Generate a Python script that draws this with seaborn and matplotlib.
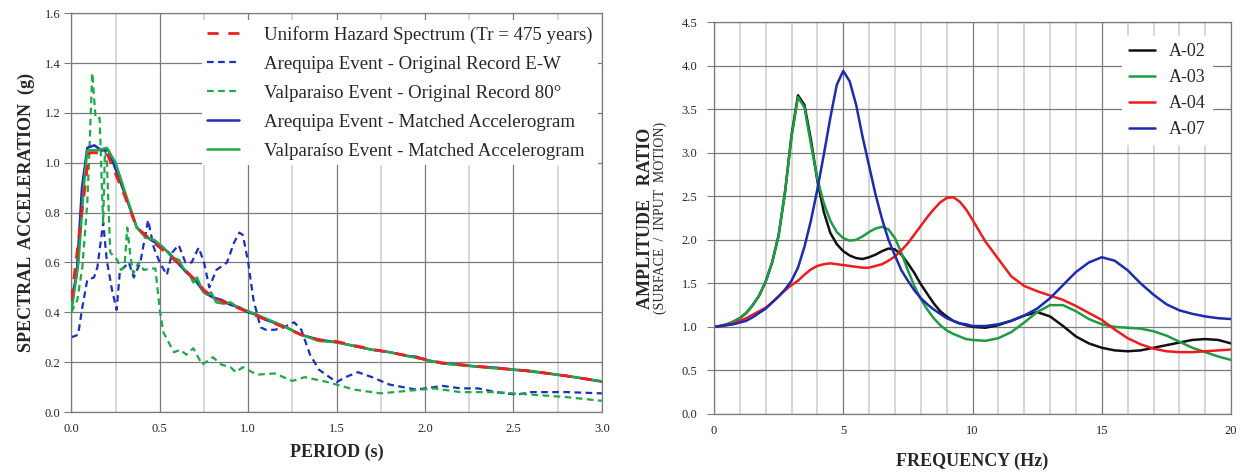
import matplotlib
matplotlib.use("Agg")
import matplotlib.pyplot as plt
from matplotlib.ticker import MultipleLocator, FormatStrFormatter
import seaborn as sns

# ---- left panel: response spectra ----
uhs_T = [0.0, 0.1, 0.2, 0.3, 0.37, 0.45, 0.5, 0.6, 0.7, 0.75, 0.8, 0.9, 1.0, 1.1, 1.2,
         1.3, 1.4, 1.5, 1.6, 1.7, 1.8, 1.9, 2.0, 2.1, 2.2, 2.4, 2.6, 2.8, 3.0]
uhs_Sa = [0.45, 1.04, 1.04, 0.87, 0.74, 0.69, 0.66, 0.60, 0.53, 0.49, 0.46, 0.43, 0.40, 0.37, 0.34,
          0.31, 0.29, 0.283, 0.267, 0.252, 0.24, 0.226, 0.212, 0.197, 0.19, 0.177, 0.164, 0.145, 0.123]

areq_orig_T = [0.0, 0.038, 0.062, 0.09, 0.128, 0.147, 0.18, 0.2, 0.23, 0.256, 0.275, 0.297, 0.325,
               0.353, 0.39, 0.434, 0.466, 0.5, 0.54, 0.57, 0.607, 0.645, 0.68, 0.72, 0.75, 0.78,
               0.82, 0.88, 0.92, 0.95, 0.97, 1.0, 1.03, 1.07, 1.1, 1.15, 1.2, 1.26, 1.3, 1.35,
               1.4, 1.5, 1.55, 1.62, 1.7, 1.8, 1.95, 2.1, 2.2, 2.3, 2.4, 2.52, 2.6, 2.8, 3.0]
areq_orig_Sa = [0.30, 0.31, 0.42, 0.53, 0.54, 0.58, 0.76, 0.61, 0.49, 0.41, 0.57, 0.58, 0.60,
                0.54, 0.60, 0.77, 0.66, 0.60, 0.55, 0.64, 0.67, 0.60, 0.60, 0.66, 0.60, 0.50,
                0.57, 0.60, 0.68, 0.72, 0.71, 0.60, 0.45, 0.34, 0.33, 0.33, 0.34, 0.36, 0.33, 0.23,
                0.17, 0.12, 0.14, 0.16, 0.14, 0.11, 0.09, 0.105, 0.095, 0.095, 0.08, 0.07, 0.08, 0.08, 0.075]

valp_orig_T = [0.0, 0.034, 0.062, 0.09, 0.1, 0.118, 0.137, 0.16, 0.175, 0.18, 0.19, 0.2, 0.22,
               0.26, 0.28, 0.3, 0.316, 0.335, 0.35, 0.38, 0.41, 0.447, 0.475, 0.5, 0.52, 0.58,
               0.617, 0.65, 0.69, 0.74, 0.8, 0.85, 0.9, 0.93, 0.97, 1.05, 1.15, 1.25, 1.32,
               1.45, 1.6, 1.75, 1.9, 2.05, 2.2, 2.4, 2.6, 2.8, 3.0]
valp_orig_Sa = [0.40, 0.45, 0.58, 0.84, 1.01, 1.36, 1.18, 1.18, 0.85, 0.76, 1.05, 1.02, 0.64,
                0.61, 0.57, 0.58, 0.74, 0.62, 0.556, 0.60, 0.57, 0.576, 0.576, 0.41, 0.32, 0.24,
                0.25, 0.23, 0.256, 0.19, 0.22, 0.19, 0.18, 0.16, 0.18, 0.15, 0.155, 0.125, 0.14,
                0.12, 0.09, 0.075, 0.085, 0.095, 0.08, 0.08, 0.07, 0.06, 0.045]

areq_match_T = [0.0, 0.03, 0.06, 0.09, 0.13, 0.17, 0.21, 0.3, 0.37, 0.45, 0.5, 0.55, 0.6, 0.65,
                0.7, 0.75, 0.8, 0.85, 0.9, 0.95, 1.0, 1.05, 1.1, 1.2, 1.3, 1.4, 1.5, 1.6, 1.7,
                1.8, 1.9, 1.95, 2.0, 2.1, 2.2, 2.3, 2.4, 2.5, 2.6, 2.8, 3.0]
areq_match_Sa = [0.45, 0.55, 0.90, 1.06, 1.07, 1.05, 1.05, 0.88, 0.74, 0.69, 0.67, 0.64, 0.60, 0.56,
                 0.53, 0.48, 0.46, 0.45, 0.43, 0.42, 0.40, 0.39, 0.37, 0.345, 0.31, 0.29, 0.28,
                 0.265, 0.25, 0.24, 0.225, 0.222, 0.21, 0.195, 0.19, 0.182, 0.178, 0.17, 0.163,
                 0.145, 0.122]

valp_match_T = [0.0, 0.04, 0.07, 0.09, 0.15, 0.2, 0.25, 0.3, 0.37, 0.42, 0.47, 0.52, 0.57, 0.61,
                0.63, 0.67, 0.69, 0.71, 0.74, 0.77, 0.79, 0.82, 0.86, 0.9, 0.94, 1.0, 1.05, 1.1,
                1.2, 1.3, 1.4, 1.5, 1.6, 1.7, 1.8, 1.9, 2.0, 2.1, 2.2, 2.4, 2.6, 2.8, 3.0]
valp_match_Sa = [0.40, 0.60, 0.90, 1.05, 1.05, 1.06, 1.0, 0.89, 0.74, 0.70, 0.69, 0.66, 0.62, 0.61,
                 0.58, 0.55, 0.52, 0.54, 0.49, 0.47, 0.48, 0.44, 0.435, 0.44, 0.42, 0.405, 0.39,
                 0.375, 0.345, 0.31, 0.285, 0.28, 0.265, 0.25, 0.24, 0.225, 0.21, 0.195, 0.188,
                 0.175, 0.165, 0.145, 0.124]

spectra_labels = ["Uniform Hazard Spectrum (Tr = 475 years)",
                  "Arequipa Event - Original Record E-W",
                  "Valparaiso Event - Original Record 80°",
                  "Arequipa Event - Matched Accelerogram",
                  "Valparaíso Event - Matched Accelerogram"]

# ---- right panel: transfer functions ----
freq = [0.0, 0.25, 0.5, 0.75, 1.0, 1.25, 1.5, 1.75, 2.0, 2.25, 2.5, 2.75, 3.0, 3.25, 3.5, 3.75,
        4.0, 4.25, 4.5, 4.75, 5.0, 5.25, 5.5, 5.75, 6.0, 6.25, 6.5, 6.75, 7.0, 7.25, 7.5, 7.75,
        8.0, 8.25, 8.5, 8.75, 9.0, 9.25, 9.5, 9.75, 10.0, 10.5, 11.0, 11.5, 12.0, 12.5, 13.0,
        13.5, 14.0, 14.5, 15.0, 15.5, 16.0, 16.5, 17.0, 17.5, 18.0, 18.5, 19.0, 19.5, 20.0]
a02 = [1.00, 1.01, 1.03, 1.06, 1.10, 1.16, 1.25, 1.36, 1.52, 1.74, 2.05, 2.55, 3.20, 3.66, 3.55, 3.15,
       2.68, 2.32, 2.08, 1.95, 1.87, 1.82, 1.79, 1.78, 1.80, 1.83, 1.87, 1.90, 1.89, 1.83, 1.73, 1.62,
       1.49, 1.38, 1.27, 1.18, 1.12, 1.07, 1.04, 1.02, 1.00, 0.99, 1.02, 1.07, 1.13, 1.17, 1.12,
       1.01, 0.89, 0.81, 0.76, 0.73, 0.72, 0.73, 0.76, 0.79, 0.82, 0.85, 0.86, 0.85, 0.81]
a03 = [1.00, 1.01, 1.03, 1.06, 1.10, 1.16, 1.25, 1.36, 1.52, 1.74, 2.05, 2.55, 3.18, 3.64, 3.52, 3.10,
       2.70, 2.42, 2.22, 2.09, 2.02, 1.99, 2.00, 2.04, 2.09, 2.13, 2.15, 2.12, 2.02, 1.85, 1.65, 1.47,
       1.32, 1.20, 1.10, 1.02, 0.96, 0.92, 0.89, 0.86, 0.85, 0.84, 0.87, 0.94, 1.05, 1.17, 1.25,
       1.25, 1.18, 1.09, 1.03, 1.00, 0.99, 0.98, 0.95, 0.90, 0.83, 0.76, 0.71, 0.66, 0.62]
a04 = [1.00, 1.01, 1.02, 1.04, 1.07, 1.10, 1.14, 1.18, 1.22, 1.28, 1.35, 1.42, 1.48, 1.53, 1.60, 1.66,
       1.70, 1.72, 1.73, 1.72, 1.71, 1.70, 1.69, 1.68, 1.68, 1.70, 1.72, 1.76, 1.81, 1.88, 1.96, 2.06,
       2.16, 2.26, 2.35, 2.43, 2.48, 2.49, 2.44, 2.35, 2.23, 1.98, 1.78, 1.58, 1.47, 1.41, 1.36,
       1.31, 1.24, 1.16, 1.08, 0.97, 0.87, 0.80, 0.75, 0.72, 0.71, 0.71, 0.72, 0.73, 0.74]
a07 = [1.00, 1.01, 1.02, 1.03, 1.05, 1.07, 1.11, 1.16, 1.21, 1.28, 1.35, 1.43, 1.53, 1.68, 1.92, 2.22,
       2.58, 2.98, 3.40, 3.78, 3.94, 3.82, 3.55, 3.18, 2.85, 2.52, 2.24, 2.00, 1.82, 1.65, 1.53, 1.42,
       1.33, 1.26, 1.20, 1.15, 1.10, 1.07, 1.04, 1.03, 1.01, 1.01, 1.03, 1.07, 1.13, 1.21, 1.33,
       1.48, 1.63, 1.74, 1.80, 1.76, 1.65, 1.50, 1.37, 1.26, 1.19, 1.15, 1.12, 1.10, 1.09]
site_names = ["A-02", "A-03", "A-04", "A-07"]
site_colors = ["#111111", "#1f9a45", "#ee1c1c", "#1c2cb0"]

sns.set_style("white")
plt.rcParams["font.family"] = ["Liberation Serif", "DejaVu Serif"]

fig = plt.figure(figsize=(12.41, 4.72), dpi=100)
ax1 = fig.add_axes([0.0575, 0.127, 0.4275, 0.845])
ax2 = fig.add_axes([0.5753, 0.123, 0.4167, 0.830])

RED = "#f01e1e"
BLUE = "#1c2fbf"
GREEN = "#1faa48"


def style_axes(ax):
    ax.grid(True, which="major", color="#7a7a7a", lw=0.9)
    ax.grid(True, which="minor", axis="x", color="#d4d4d4", lw=1.3)
    ax.set_axisbelow(True)
    for s in ax.spines.values():
        s.set_color("#7a7a7a")
        s.set_linewidth(0.9)
    ax.tick_params(axis="y", which="major", direction="out", length=5, width=0.8,
                   color="#7a7a7a", labelsize=9, pad=3, left=True)
    ax.tick_params(axis="x", which="both", length=0, labelsize=9, pad=8)


# left panel
sns.lineplot(x=areq_orig_T, y=areq_orig_Sa, ax=ax1, color=BLUE, lw=1.6, ls=(0, (3, 2)),
             estimator=None, sort=False, label=spectra_labels[1], zorder=2)
sns.lineplot(x=valp_orig_T, y=valp_orig_Sa, ax=ax1, color=GREEN, lw=1.6, ls=(0, (3, 2)),
             estimator=None, sort=False, label=spectra_labels[2], zorder=2)
sns.lineplot(x=areq_match_T, y=areq_match_Sa, ax=ax1, color=BLUE, lw=1.8,
             estimator=None, sort=False, label=spectra_labels[3], zorder=3)
sns.lineplot(x=valp_match_T, y=valp_match_Sa, ax=ax1, color=GREEN, lw=1.8,
             estimator=None, sort=False, label=spectra_labels[4], zorder=3)
sns.lineplot(x=uhs_T, y=uhs_Sa, ax=ax1, color=RED, lw=2.0, ls=(0, (4, 3.5)),
             estimator=None, sort=False, label=spectra_labels[0], zorder=4)

ax1.set_xlim(0, 3.0)
ax1.set_ylim(0, 1.6)
ax1.xaxis.set_major_locator(MultipleLocator(0.5))
ax1.xaxis.set_minor_locator(MultipleLocator(0.25))
ax1.yaxis.set_major_locator(MultipleLocator(0.2))
ax1.xaxis.set_major_formatter(FormatStrFormatter("%.1f"))
ax1.yaxis.set_major_formatter(FormatStrFormatter("%.1f"))
style_axes(ax1)
ax1.set_xlabel("PERIOD (s)", fontsize=13, fontweight="bold", labelpad=6)
ax1.set_ylabel("SPECTRAL  ACCELERATION  (g)", fontsize=13, fontweight="bold", labelpad=7)

h, l = ax1.get_legend_handles_labels()
order = [l.index(s) for s in spectra_labels]
ax1.legend([h[i] for i in order], [l[i] for i in order], loc="upper right",
           bbox_to_anchor=(0.993, 0.982), fontsize=13.6, frameon=True, fancybox=False,
           framealpha=1, facecolor="white", edgecolor="none", handlelength=1.7,
           handletextpad=1.3, labelspacing=0.62, borderpad=0.3, borderaxespad=0.0)

# right panel
for vals, name, col in zip([a02, a03, a04, a07], site_names, site_colors):
    sns.lineplot(x=freq, y=vals, ax=ax2, color=col, lw=1.8, estimator=None, sort=False,
                 label=name)

ax2.set_xlim(0, 20)
ax2.set_ylim(0, 4.5)
ax2.xaxis.set_major_locator(MultipleLocator(5))
ax2.xaxis.set_minor_locator(MultipleLocator(1))
ax2.yaxis.set_major_locator(MultipleLocator(0.5))
ax2.yaxis.set_major_formatter(FormatStrFormatter("%.1f"))
style_axes(ax2)
ax2.tick_params(axis="y", pad=7)
ax2.set_xlabel("FREQUENCY (Hz)", fontsize=13, fontweight="bold", labelpad=11)
ax2.set_ylabel("")
ax2.text(-0.133, 0.5, "AMPLITUDE   RATIO", transform=ax2.transAxes, rotation=90,
         ha="center", va="center", fontsize=13, fontweight="bold")
ax2.text(-0.104, 0.5, "(SURFACE  /  INPUT  MOTION)", transform=ax2.transAxes, rotation=90,
         ha="center", va="center", fontsize=10)
ax2.legend(loc="upper right", bbox_to_anchor=(0.965, 0.965), fontsize=13, frameon=True,
           fancybox=False, framealpha=1, facecolor="white", edgecolor="none",
           handlelength=1.4, handletextpad=0.8, labelspacing=0.5, borderpad=0.4,
           borderaxespad=0.0)

fig.savefig("out.png", dpi=100)
